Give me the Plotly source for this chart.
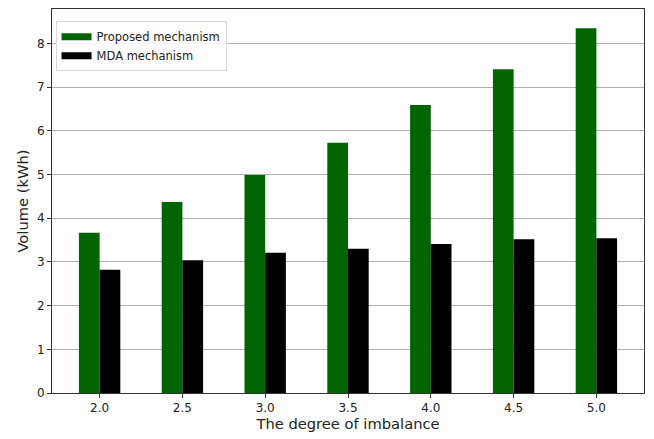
import plotly.graph_objects as go

categories = ["2.0", "2.5", "3.0", "3.5", "4.0", "4.5", "5.0"]
proposed = [3.67, 4.37, 4.99, 5.73, 6.59, 7.41, 8.35]
mda = [2.82, 3.04, 3.21, 3.30, 3.41, 3.52, 3.54]
yticks = [0, 1, 2, 3, 4, 5, 6, 7, 8]
series_names = ["Proposed mechanism", "MDA mechanism"]
series_colors = ["#006400", "#000000"]

FONT = "DejaVu Sans, sans-serif"

fig = go.Figure()
for name, vals, col in zip(series_names, [proposed, mda], series_colors):
    fig.add_trace(go.Bar(x=categories, y=vals, name=name, showlegend=False,
                         marker=dict(color=col, line=dict(width=0))))
# legend entries drawn as wide rectangular patches
for name, col in zip(series_names, series_colors):
    fig.add_trace(go.Scatter(x=[None], y=[None], mode="lines", name=name,
                             line=dict(color=col, width=7), showlegend=True))

fig.update_layout(
    width=646, height=431,
    margin=dict(l=44, r=10, t=1, b=46),
    barmode="group", bargap=0.5, bargroupgap=0,
    plot_bgcolor="white", paper_bgcolor="white",
    font=dict(family=FONT, color="#222222", size=12),
    legend=dict(x=0.006, y=0.968, xanchor="left", yanchor="top",
                bgcolor="rgba(255,255,255,0.85)", bordercolor="#d8d8d8", borderwidth=1,
                font=dict(size=11.5), tracegroupgap=0),
    xaxis=dict(type="category", range=[-0.575, 6.575],
               title=dict(text="The degree of imbalance", font=dict(size=14.7), standoff=4),
               showline=True, linecolor="#333333", linewidth=1, mirror=True,
               ticks="outside", ticklen=4, tickcolor="#333333", showgrid=False,
               tickfont=dict(size=12)),
    yaxis=dict(range=[0, 8.79], tickvals=yticks,
               title=dict(text="Volume (kWh)", font=dict(size=14.7), standoff=4),
               showline=True, linecolor="#333333", linewidth=1, mirror=True,
               ticks="outside", ticklen=4, tickcolor="#333333",
               showgrid=True, gridcolor="#b0b0b0", gridwidth=1, zeroline=False,
               tickfont=dict(size=12)),
)

fig.write_html("out.html")
